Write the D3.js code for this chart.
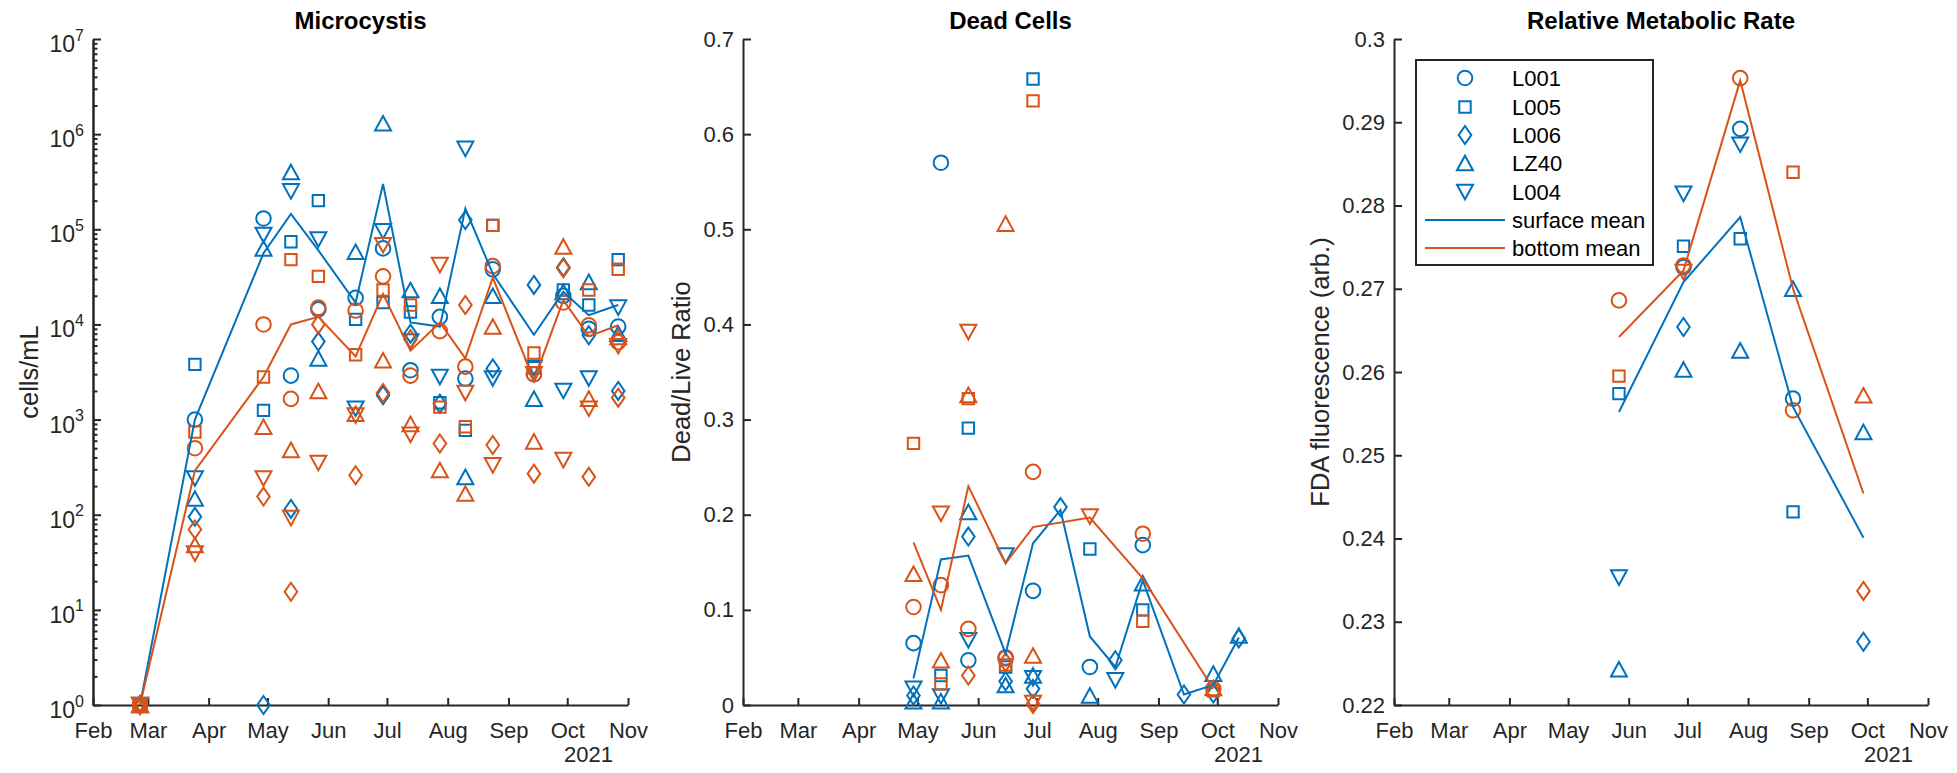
<!DOCTYPE html>
<html><head><meta charset="utf-8">
<script src="https://cdn.jsdelivr.net/npm/d3@7"></script>
<style>
body{margin:0;background:#fff}
svg{display:block}
text{font-family:"Liberation Sans",Arial,Helvetica,sans-serif}
</style>
</head><body>
<svg id="c" width="1957" height="773"></svg>
<script>
// ---------------- DATA ----------------
const monthLabels = ["Feb","Mar","Apr","May","Jun","Jul","Aug","Sep","Oct","Nov"];
const yearLabel = "2021";
const titles = ["Microcystis","Dead Cells","Relative Metabolic Rate"];
const yLabels = ["cells/mL","Dead/Live Ratio","FDA fluorescence (arb.)"];
const stations = ["L001","L005","L006","LZ40","L004"];
const meanNames = ["surface mean","bottom mean"];

// Panel 1: Microcystis (cells/mL)
const dates1 = ["2021-02-25","2021-03-25","2021-04-29","2021-05-13","2021-05-27","2021-06-15","2021-06-29","2021-07-13","2021-07-28","2021-08-10","2021-08-24","2021-09-14","2021-09-29","2021-10-12","2021-10-27"];
const mcSurface = [
  [1,1000,130000,2900,14400,19000,63000,3300,12000,2700,38000,3000,20000,9000,9500],      // L001
  [1,3800,1250,74000,200000,11300,17000,13500,1500,770,110000,3500,23000,16000,48000],    // L005
  [1,95,1,115,6600,null,1800,8000,1470,125000,3450,26000,40000,7700,2000],               // L006
  [1,148,63000,400000,4400,58000,1300000,23000,20000,250,20000,1660,22000,28000,8000],    // LZ40
  [1,240,87000,250000,78000,1300,95000,6600,2800,700000,2700,3500,2000,2700,15000]        // L004
];
const mcBottom = [
  [1,500,10000,1650,15000,14000,32000,2900,8500,3600,41000,3000,17000,9800,6500],
  [1,740,2800,48000,32000,4800,23000,16000,1350,840,110000,5000,null,23000,38000],
  [1,70,155,15.5,10000,260,1900,7000,560,16000,540,270,39000,250,1700],
  [1,48,840,480,2000,1150,4200,900,295,167,9500,590,66000,1660,7400],
  [1,39,240,92,350,1100,68000,690,42000,1900,330,3000,375,1300,5900]
];
const mcSurfaceMean = [1,1000,56000,145000,60000,17000,300000,10500,9500,165000,34000,7800,22000,12500,16000];
const mcBottomMean  = [1,290,2800,10000,12000,4600,21000,5300,10500,4400,31000,2600,18000,7500,9800];

// Panel 2: Dead/Live ratio
const dates2 = ["2021-04-29","2021-05-13","2021-05-27","2021-06-15","2021-06-29","2021-07-13","2021-07-28","2021-08-10","2021-08-24","2021-09-14","2021-09-29","2021-10-12"];
const dcSurface = [
  [0.065,0.570,0.047,0.050,0.120,null,0.040,null,0.168,null,null,null],
  [null,0.031,0.291,0.040,0.658,null,0.164,null,0.100,null,null,null],
  [0.010,null,0.177,0.025,0.017,0.208,null,0.047,null,0.011,0.012,0.070],
  [0.004,0.004,0.203,0.021,0.031,null,0.010,null,0.128,null,0.033,0.073],
  [0.017,0.009,0.068,0.157,0.028,null,null,0.026,null,null,null,null]
];
const dcBottom = [
  [0.103,0.126,0.080,0.049,0.245,null,null,null,0.180,null,0.017,null],
  [0.275,0.022,0.322,0.042,0.635,null,null,null,0.088,null,0.015,null],
  [null,null,0.031,0.045,0.001,null,null,null,null,null,null,null],
  [0.138,0.047,0.326,0.506,0.052,null,null,null,null,null,0.018,null],
  [null,0.201,0.392,null,0.002,null,0.198,null,null,null,null,null]
];
const dcSurfaceMean = [0.028,0.153,0.157,0.054,0.170,0.205,0.072,0.040,0.131,0.011,0.021,0.071];
const dcBottomMean  = [0.171,0.100,0.230,0.149,0.187,null,0.197,null,0.133,null,0.017,null];

// Panel 3: FDA fluorescence
const dates3 = ["2021-05-27","2021-06-29","2021-07-28","2021-08-24","2021-09-29"];
const fdaSurface = [
  [null,0.2726,0.2892,0.2568,null],
  [0.2574,0.2751,0.2760,0.2432,null],
  [null,0.2654,null,null,0.2276],
  [0.2243,0.2603,0.2626,0.2700,0.2528],
  [0.2353,0.2814,0.2873,null,null]
];
const fdaBottom = [
  [0.2686,0.2728,0.2953,0.2554,null],
  [0.2595,null,null,0.2840,null],
  [null,null,null,null,0.2337],
  [null,null,null,null,0.2572],
  [null,0.2720,null,null,null]
];
const fdaSurfaceMean = [0.2552,0.2708,0.2786,0.2558,0.2401];
const fdaBottomMean  = [0.2642,0.2722,0.2950,0.2700,0.2454];

const yTicks2 = [0,0.1,0.2,0.3,0.4,0.5,0.6,0.7];
const yTicks3 = [0.22,0.23,0.24,0.25,0.26,0.27,0.28,0.29,0.30];

// ---------------- STYLE / LAYOUT ----------------
const BLUE = "#0072BD", ORANGE = "#D95319", AX = "#262626";
const FS = 22;
const yTop = 39, yBot = 705;
const panelX = [[93,628],[743,1278],[1394,1928]];
const yLabelCx = [28.5, 681, 1320];
const parse = d3.utcParse("%Y-%m-%d");
const xDomain = [new Date(Date.UTC(2021,1,1)), new Date(Date.UTC(2021,10,1))];
const monthTicks = d3.utcMonths(xDomain[0], d3.utcDay.offset(xDomain[1],1));

function sym(t){
  switch(t){
    case 0: return "M7.3,0A7.3,7.3 0 1,1 -7.3,0A7.3,7.3 0 1,1 7.3,0Z";
    case 1: return "M-5.7,-5.7H5.7V5.7H-5.7Z";
    case 2: return "M0,-9L6.3,0L0,9L-6.3,0Z";
    case 3: return "M0,-7.3L8,7.3L-8,7.3Z";
    case 4: return "M0,7.3L8,-7.3L-8,-7.3Z";
  }
}

const svg = d3.select("#c");

function styleAxis(g){
  g.attr("font-family",null).attr("font-size",null);
  g.selectAll("path.domain").attr("stroke",AX).attr("stroke-width",2);
  g.selectAll(".tick line").attr("stroke",AX).attr("stroke-width",2);
  g.selectAll(".tick text").attr("fill",AX).style("font-size",FS+"px");
}

function panel(i, y, dates, surf, bot, surfMean, botMean){
  const [x0,x1] = panelX[i];
  const x = d3.scaleUtc().domain(xDomain).range([x0,x1]);
  const g = svg.append("g");
  const pd = dates.map(parse);

  // x axis
  const gx = g.append("g").attr("transform",`translate(0,${yBot})`)
    .call(d3.axisBottom(x).tickValues(monthTicks).tickFormat((d,k)=>monthLabels[k])
      .tickSizeInner(-7).tickSizeOuter(0).tickPadding(17));
  styleAxis(gx);
  gx.selectAll(".tick text").attr("dy",null).attr("y",33);
  g.append("text").attr("x",x1-15).attr("y",762).attr("text-anchor","end")
    .attr("fill",AX).style("font-size",FS+"px").text(yearLabel);

  // title
  g.append("text").attr("x",(x0+x1)/2).attr("y",29).attr("text-anchor","middle")
    .style("font-size","24px").style("font-weight","bold").attr("fill","#000").text(titles[i]);

  // y label
  const cx = yLabelCx[i], cy = (yTop+yBot)/2, lfs = 25.5;
  g.append("text").attr("transform",`translate(${cx+0.36*lfs},${cy}) rotate(-90)`)
    .attr("text-anchor","middle").attr("fill",AX).style("font-size",lfs+"px").text(yLabels[i]);

  // points
  function pts(rows, color){
    const flat = [];
    rows.forEach((row,s)=>row.forEach((v,j)=>{ if(v!=null) flat.push({s, d:pd[j], v}); }));
    g.append("g").selectAll("path").data(flat).join("path")
      .attr("d",d=>sym(d.s)).attr("transform",d=>`translate(${x(d.d)},${y(d.v)})`)
      .attr("fill","none").attr("stroke",color).attr("stroke-width",2);
  }
  pts(surf, BLUE);
  pts(bot, ORANGE);

  const line = d3.line().defined(d=>d.v!=null).x(d=>x(d.d)).y(d=>y(d.v));
  function mline(vals,color){
    const data = vals.map((v,j)=>({d:pd[j],v})).filter(d=>d.v!=null);
    g.append("path").datum(data).attr("d",line).attr("fill","none")
      .attr("stroke",color).attr("stroke-width",2).attr("stroke-linejoin","miter");
  }
  mline(surfMean, BLUE);
  mline(botMean, ORANGE);
  return g;
}

// Panel 1 (log)
const y1 = d3.scaleLog().domain([1,1e7]).range([yBot,yTop]);
const g1 = panel(0, y1, dates1, mcSurface, mcBottom, mcSurfaceMean, mcBottomMean);
const majors = d3.range(0,8).map(e=>Math.pow(10,e));
const minors = [];
for(let e=0;e<7;e++) for(let m=2;m<10;m++) minors.push(m*Math.pow(10,e));
const gym = g1.append("g").attr("transform",`translate(${panelX[0][0]},0)`)
  .call(d3.axisLeft(y1).tickValues(minors).tickFormat("").tickSizeInner(-4.5).tickSizeOuter(0));
styleAxis(gym);
const gy1 = g1.append("g").attr("transform",`translate(${panelX[0][0]},0)`)
  .call(d3.axisLeft(y1).tickValues(majors).tickFormat("").tickSizeInner(-8).tickSizeOuter(0).tickPadding(9));
styleAxis(gy1);
gy1.selectAll(".tick text").attr("dy",null).attr("y",12.5).style("font-size","23px").each(function(d){
  const t = d3.select(this);
  t.text(null);
  t.append("tspan").text("10");
  t.append("tspan").attr("dy",-11.5).style("font-size","16px").text(Math.round(Math.log10(d)));
});

// Panel 2
const y2 = d3.scaleLinear().domain([0,0.7]).range([yBot,yTop]);
const g2 = panel(1, y2, dates2, dcSurface, dcBottom, dcSurfaceMean, dcBottomMean);
const gy2 = g2.append("g").attr("transform",`translate(${panelX[1][0]},0)`)
  .call(d3.axisLeft(y2).tickValues(yTicks2).tickFormat(d3.format("~g")).tickSizeInner(-8).tickSizeOuter(0).tickPadding(9));
styleAxis(gy2);

// Panel 3
const y3 = d3.scaleLinear().domain([0.22,0.30]).range([yBot,yTop]);
const g3 = panel(2, y3, dates3, fdaSurface, fdaBottom, fdaSurfaceMean, fdaBottomMean);
const gy3 = g3.append("g").attr("transform",`translate(${panelX[2][0]},0)`)
  .call(d3.axisLeft(y3).tickValues(yTicks3).tickFormat(d3.format("~g")).tickSizeInner(-8).tickSizeOuter(0).tickPadding(9));
styleAxis(gy3);

// Legend
const lg = g3.append("g");
const lx = 1416, ly = 60, lw = 237, lh = 205;
lg.append("rect").attr("x",lx).attr("y",ly).attr("width",lw).attr("height",lh)
  .attr("fill","#fff").attr("stroke",AX).attr("stroke-width",2);
const rowY = [78,107,135,163,192,220,248];
stations.forEach((s,k)=>{
  lg.append("path").attr("d",sym(k)).attr("transform",`translate(1465,${rowY[k]})`)
    .attr("fill","none").attr("stroke",BLUE).attr("stroke-width",2);
  lg.append("text").attr("x",1512).attr("y",rowY[k]+0.36*FS).attr("fill","#000")
    .style("font-size",FS+"px").text(s);
});
meanNames.forEach((n,k)=>{
  const yy = rowY[5+k];
  lg.append("line").attr("x1",1425).attr("x2",1505).attr("y1",yy).attr("y2",yy)
    .attr("stroke",k===0?BLUE:ORANGE).attr("stroke-width",2);
  lg.append("text").attr("x",1512).attr("y",yy+0.36*FS).attr("fill","#000")
    .style("font-size",FS+"px").text(n);
});
</script>
</body></html>
